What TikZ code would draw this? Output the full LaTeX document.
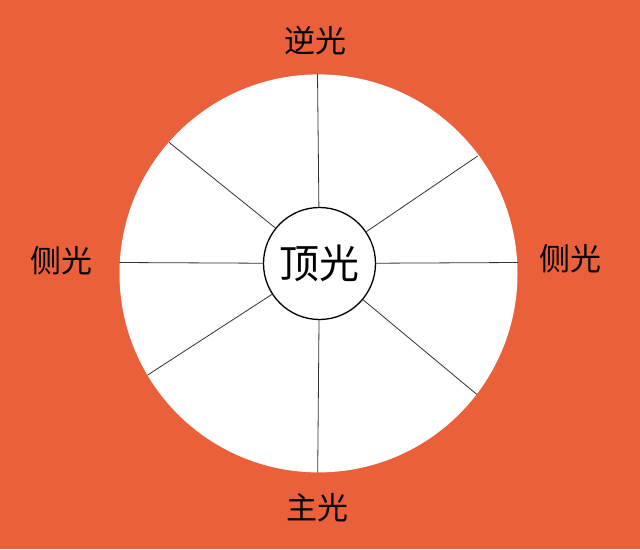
\documentclass[tikz,border=0pt]{standalone}
\usepackage{fontspec}
\setmainfont{Noto Sans CJK SC}
\usepackage{tikz}
\usetikzlibrary{calc}
\usetikzlibrary{positioning}
\definecolor{bgorange}{RGB}{234,96,58}
\tikzset{disc/.style={circle,fill=white,inner sep=0pt,minimum size=398pt}}
\tikzset{hub/.style={circle,draw=black,line width=1.3pt,fill=white,inner sep=0pt,minimum size=112pt,font=\fontsize{40}{44}\selectfont}}
\tikzset{lbl/.style={inner sep=0pt,font=\fontsize{31}{35}\selectfont}}
\tikzset{spoke/.style={draw=black!80,line width=0.8pt}}

\begin{document}
\begin{tikzpicture}[x=1pt,y=-1pt]
\fill[bgorange] (0,0) rectangle (640,549);
\useasboundingbox (0,0) rectangle (640,549);
\node[disc] (D) at (318.5,273.4) {};
%spokes
\foreach \i / \x / \y in {1/317.5/74, 2/477.7/156, 3/518/262.5, 4/476.7/394.3,
                          5/317.7/472.7, 6/147.7/375, 7/119.3/262.5, 8/169/142.3} {
	\coordinate (o\i) at (\x,\y);
}
\node[hub] (T) at (319.5,263.5) {顶光};
\foreach \i in {1,...,8} {
	\draw[spoke] (T) -- (o\i);
}
\node[lbl] (back) at (315,41) {逆光};
\node[lbl] (sideL) at (61.5,261) {侧光};
\node[lbl] (sideR) at (570.5,259) {侧光};
\node[lbl] (key) at (317.5,508) {主光};
\end{tikzpicture}
\end{document}
